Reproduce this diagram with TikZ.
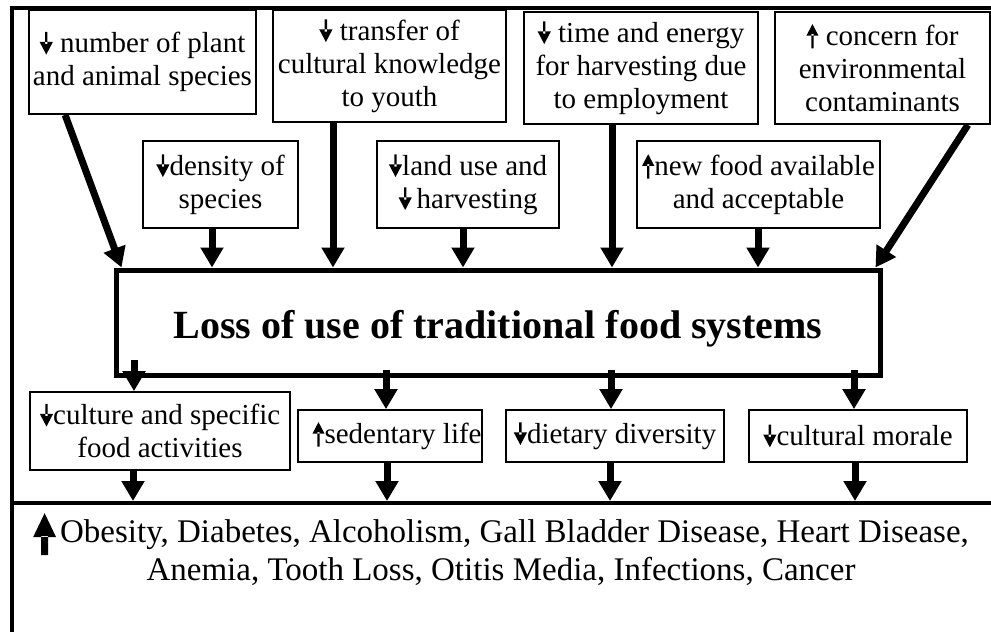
\documentclass[tikz,border=0pt]{standalone}
\usepackage{fontspec}
\setmainfont{Liberation Serif}
\usetikzlibrary{arrows.meta}
\newcommand\dnar{\tikz[baseline=0pt]\fill (-0.04em,0.72em) rectangle (0.04em,0.3em) (-0.23em,0.38em) -- (0.23em,0.38em) -- (0em,-0.06em) -- cycle;}
\newcommand\upar{\tikz[baseline=0pt]\fill (-0.04em,-0.1em) rectangle (0.04em,0.4em) (-0.21em,0.34em) -- (0.21em,0.34em) -- (0em,0.74em) -- cycle;}
\newcommand\bigup{\tikz[baseline=0pt]\fill (-3.5pt,-13pt) rectangle (3.5pt,6pt) (-11.5pt,5pt) -- (11.5pt,5pt) -- (0pt,29pt) -- cycle;}
\begin{document}
\begin{tikzpicture}[x=1pt,y=-1pt,
  box/.style={draw, line width=1.8pt, inner sep=0pt, align=center, font=\fontsize{29}{33}\selectfont},
  conn/.style={line width=7pt, -{Triangle[width=22pt,length=20pt]}},
  heavy/.style={draw, line width=4pt, inner sep=0pt}]
\useasboundingbox (0,0) rectangle (991,632);
\clip (0,0) rectangle (991,632);
\fill[white] (0,0) rectangle (991,632);
\node[heavy, minimum width=988pt, minimum height=637pt] (frame) at (506,326.5) {};
\node[heavy, minimum width=988pt, minimum height=142pt] (bot) at (506,574) {};
% top row
\node[box, minimum width=227pt, minimum height=104pt] (b1) at (142.5,62) {\dnar\ number of plant\\and animal species};
\node[box, minimum width=233pt, minimum height=112pt] (b2) at (389.5,66) {\dnar\ transfer of\\cultural knowledge\\to youth};
\node[box, minimum width=234pt, minimum height=112pt] (b3) at (641,68) {\dnar\ time and energy\\for harvesting due\\to employment};
\node[box, minimum width=215pt, minimum height=112pt] (b4) at (882.5,68) {\upar\ concern for\\environmental\\contaminants};
% second row
\node[box, minimum width=155pt, minimum height=87pt] (d1) at (220.5,184.5) {\dnar density of\\species};
\node[box, minimum width=182pt, minimum height=87pt] (d2) at (468,184.5) {\dnar land use and\\\dnar\,harvesting};
\node[box, minimum width=243pt, minimum height=87pt] (d3) at (758.5,184.5) {\upar new food available\\and acceptable};
% main
\node[draw, line width=5pt, minimum width=764pt, minimum height=105pt, inner sep=0pt,
  font=\fontsize{40}{48}\selectfont\bfseries, text height=31pt, text depth=0pt] (main) at (498,322.5) {Loss of use of traditional food systems};
% third row
\node[box, minimum width=260pt, minimum height=78pt] (r1) at (160,431) {\dnar culture and specific\\food activities};
\node[box, minimum width=184pt, minimum height=52pt] (r2) at (390,436) {\hspace{14pt}\upar sedentary life};
\node[box, minimum width=218pt, minimum height=52pt] (r3) at (615,436) {\dnar dietary diversity};
\node[box, minimum width=218pt, minimum height=52pt] (r4) at (858,436) {\dnar cultural morale};
% diseases
\node[anchor=north, inner sep=0pt, align=center, font=\fontsize{33}{38}\selectfont] (dis) at (501,513)
  {\bigup\hspace{4pt}Obesity, Diabetes, Alcoholism, Gall Bladder Disease, Heart Disease,\\Anemia, Tooth Loss, Otitis Media, Infections, Cancer};
% connectors into main
\draw[conn] ([xshift=37pt]b1.south west) -- ([xshift=8pt]main.north west);
\draw[conn] ([xshift=-23pt]b4.south east) -- ([xshift=-7pt]main.north east);
\coordinate (a1) at ([xshift=-8.5pt]d1.south);
\coordinate (a2) at ([xshift=-56.5pt]b2.south);
\coordinate (a3) at ([xshift=-5pt]d2.south);
\coordinate (a4) at ([xshift=-29pt]b3.south);
\coordinate (a5) at ([xshift=-0.5pt]d3.south);
\foreach \c in {a1,a2,a3,a4,a5} \draw[conn] (\c) -- (\c |- main.north);
% connectors out of main
\coordinate (e1) at ([xshift=-26pt]r1.north);
\coordinate (e2) at ([xshift=-4pt]r2.north);
\coordinate (e3) at ([xshift=-4pt]r3.north);
\coordinate (e4) at ([xshift=-4pt]r4.north);
\draw[conn] (e1 |- main.south) ++(0,-18) -- (e1);
\foreach \c in {e2,e3,e4} \draw[conn] (\c |- main.south) ++(0,-8) -- (\c);
% connectors to diseases
\coordinate (f1) at ([xshift=-27pt]r1.south);
\coordinate (f2) at ([xshift=-3pt]r2.south);
\coordinate (f3) at ([xshift=-5pt]r3.south);
\coordinate (f4) at ([xshift=-3pt]r4.south);
\foreach \c in {f1,f2,f3,f4} \draw[conn] (\c) -- (\c |- bot.north);
\end{tikzpicture}
\end{document}
